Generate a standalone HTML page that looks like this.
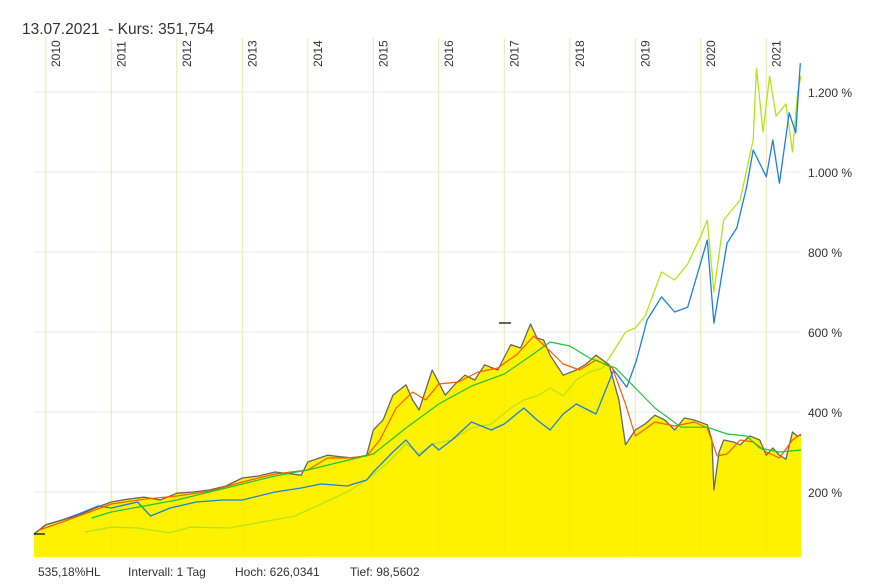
<!DOCTYPE html>
<html><head><meta charset="utf-8"><style>
body{margin:0;background:#fff;font-family:"Liberation Sans",sans-serif;}
#wrap{position:relative;width:878px;height:586px;overflow:hidden}
</style></head><body>
<div id="wrap">
<svg id="chart" width="878" height="586"></svg>
</div>
<script>
const yearTicks=[2010,2011,2012,2013,2014,2015,2016,2017,2018,2019,2020,2021];
const pctTicks=[200,400,600,800,1000,1200];
const pctLabels=["200 %","400 %","600 %","800 %","1.000 %","1.200 %"];
const mainT=[2009.82,2010.0,2010.25,2010.5,2010.75,2011.0,2011.25,2011.5,2011.75,2012.0,2012.25,2012.5,2012.75,2013.0,2013.25,2013.5,2013.75,2013.9,2014.0,2014.3,2014.5,2014.7,2014.9,2015.0,2015.15,2015.3,2015.5,2015.6,2015.7,2015.9,2016.1,2016.25,2016.4,2016.55,2016.7,2016.9,2017.1,2017.25,2017.4,2017.5,2017.6,2017.7,2017.9,2018.1,2018.25,2018.4,2018.6,2018.75,2018.85,2019.0,2019.15,2019.3,2019.45,2019.6,2019.75,2019.9,2020.1,2020.17,2020.2,2020.28,2020.35,2020.5,2020.6,2020.75,2020.9,2021.0,2021.1,2021.2,2021.3,2021.4,2021.47,2021.53];
const mainV=[95,118,130,142,160,175,182,187,180,197,200,205,215,235,240,250,245,242,275,292,288,285,292,355,380,442,468,430,405,505,442,470,492,480,518,505,568,560,620,585,580,542,492,505,520,542,518,430,318,355,370,392,380,355,385,380,368,330,205,300,330,325,318,340,330,292,310,292,282,350,340,342];
const redT=[2009.9,2010.25,2010.5,2010.75,2011.0,2011.5,2012.0,2012.5,2013.0,2013.5,2014.0,2014.3,2014.6,2014.9,2015.1,2015.35,2015.6,2015.8,2016.0,2016.3,2016.6,2016.9,2017.2,2017.45,2017.65,2017.9,2018.15,2018.4,2018.65,2018.85,2019.0,2019.3,2019.6,2019.9,2020.1,2020.25,2020.4,2020.6,2020.8,2021.0,2021.2,2021.4,2021.53];
const redV=[105,125,140,155,170,182,190,202,225,245,255,285,285,290,330,410,450,430,470,475,500,510,545,590,560,520,505,530,510,420,340,375,365,375,360,290,295,330,325,300,285,330,345];
const greenT=[2010.7,2011.0,2011.5,2012.0,2012.5,2013.0,2013.5,2014.0,2014.5,2015.0,2015.5,2016.0,2016.5,2017.0,2017.4,2017.7,2018.0,2018.3,2018.7,2019.0,2019.3,2019.7,2020.1,2020.4,2020.7,2020.9,2021.2,2021.53];
const greenV=[135,150,165,180,200,220,240,255,275,295,360,420,465,495,540,575,565,535,510,460,410,362,362,345,340,310,300,305];
const blueT=[2009.82,2010.0,2010.25,2010.5,2010.8,2011.0,2011.4,2011.6,2011.9,2012.3,2012.7,2013.0,2013.5,2013.9,2014.2,2014.6,2014.9,2015.0,2015.3,2015.5,2015.7,2015.9,2016.0,2016.2,2016.5,2016.8,2017.0,2017.3,2017.5,2017.7,2017.9,2018.1,2018.4,2018.67,2018.87,2019.02,2019.18,2019.4,2019.6,2019.8,2020.1,2020.2,2020.4,2020.55,2020.7,2020.8,2021.0,2021.1,2021.2,2021.35,2021.45,2021.52];
const blueV=[95,118,130,145,165,160,175,140,160,175,180,180,200,210,220,215,230,250,300,330,290,320,305,330,375,355,370,410,380,355,395,420,395,505,462,530,630,688,650,662,830,622,822,860,962,1055,988,1080,972,1148,1098,1272];
const limeT=[2010.6,2011.0,2011.4,2011.9,2012.2,2012.8,2013.3,2013.8,2014.2,2014.6,2014.9,2015.2,2015.5,2015.7,2015.9,2016.2,2016.5,2016.8,2017.1,2017.3,2017.5,2017.7,2017.9,2018.1,2018.3,2018.5,2018.7,2018.85,2019.0,2019.15,2019.4,2019.6,2019.8,2020.0,2020.1,2020.2,2020.35,2020.6,2020.8,2020.85,2020.95,2021.05,2021.15,2021.3,2021.4,2021.48,2021.53];
const limeV=[100,112,110,98,112,110,125,140,170,200,230,270,320,295,320,330,360,370,410,430,440,460,440,480,500,510,560,600,610,640,750,730,770,840,880,700,880,930,1080,1260,1100,1240,1140,1170,1050,1200,1240];

const X0=34,X1=801,T0=2009.82,T1=2021.53,Y0=557;
const xs=t=>X0+(t-T0)/(T1-T0)*(X1-X0);
const ys=v=>572-v*0.4;
const svg=document.getElementById('chart');
const NS='http://www.w3.org/2000/svg';
function mk(tag,attrs,parent){const e=document.createElementNS(NS,tag);for(const k in attrs)e.setAttribute(k,attrs[k]);(parent||svg).appendChild(e);return e;}
function pts(T,V){return T.map((t,i)=>xs(t).toFixed(1)+','+ys(V[i]).toFixed(1)).join(' ');}

yearTicks.forEach(y=>{const l=mk('line',{x1:xs(y),x2:xs(y),y1:38,y2:Y0,stroke:'#ebebeb','stroke-width':1});


const tx=mk('text',{x:0,y:0,transform:`translate(${xs(y)+14},67) rotate(-90)`,'font-size':12,fill:'#333'});
tx.textContent=y;

});
pctTicks.forEach((p,i)=>{const l=mk('line',{x1:X0,x2:X1,y1:ys(p),y2:ys(p),stroke:'#ebebeb','stroke-width':1});


const tx=mk('text',{x:808,y:ys(p)+5,'font-size':12,fill:'#333'});
tx.textContent=pctLabels[i];

});

const area=mk('polygon',{points:xs(T0)+','+Y0+' '+pts(mainT,mainV)+' '+xs(T1)+','+Y0,fill:'#fff200'});


yearTicks.forEach(y=>{const l=mk('line',{x1:xs(y),x2:xs(y),y1:38,y2:Y0,stroke:'#eadf00','stroke-width':1,opacity:0.25});

});
function line(T,V,c,w,name){const p=mk('polyline',{points:pts(T,V),fill:'none',stroke:c,'stroke-width':w,'stroke-linejoin':'round'});

}
line(limeT,limeV,'#b5e31a',1.3,'lime-series-line');
line(blueT,blueV,'#1a7fe0',1.3,'blue-series-line');
line(mainT,mainV,'#666',1.3,'price-line');
line(redT,redV,'#ff5a00',1.2,'short-ma-line');
line(greenT,greenV,'#1dc43c',1.2,'long-ma-line');
const hi=mk('line',{x1:499,x2:511,y1:323,y2:323,stroke:'#000','stroke-width':1.2});


const lo=mk('line',{x1:34,x2:45,y1:534,y2:534,stroke:'#000','stroke-width':1.2});



const title=mk('text',{x:22,y:34,'font-size':15.5,fill:'#333',style:'white-space:pre'});
title.textContent='13.07.2021  - Kurs: 351,754';


const foot=[[38,'535,18%HL','footer-performance'],[128,'Intervall: 1 Tag','footer-interval'],[235,'Hoch: 626,0341','footer-high'],[350,'Tief: 98,5602','footer-low']];
foot.forEach(f=>{const t=mk('text',{x:f[0],y:576,'font-size':12,fill:'#333'});
t.textContent=f[1];

});
</script>
</body></html>
